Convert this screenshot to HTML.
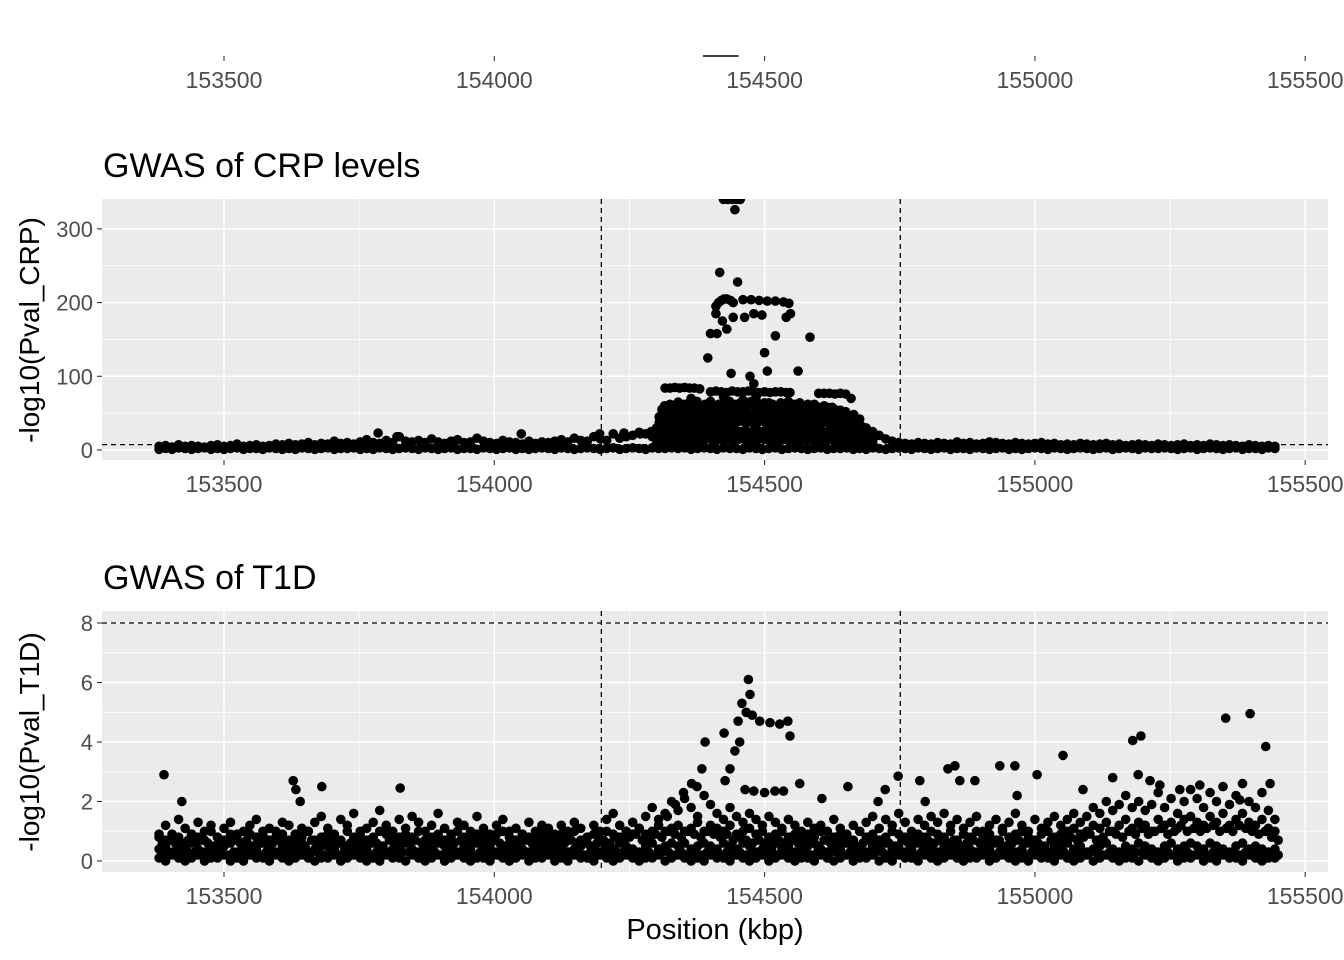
<!DOCTYPE html>
<html><head><meta charset="utf-8"><style>
html,body{margin:0;padding:0;background:#fff;}
svg{display:block;font-family:"Liberation Sans",Arial,sans-serif;}
</style></head><body>
<svg id="chart" width="1344" height="960" viewBox="0 0 1344 960" xmlns="http://www.w3.org/2000/svg">
<g id="top-track"></g>
<text x="103" y="177" font-size="34" fill="#000">GWAS of CRP levels</text>
<text x="103" y="589" font-size="34" fill="#000">GWAS of T1D</text>
<text transform="translate(39,330) rotate(-90)" text-anchor="middle" font-size="28" fill="#000">-log10(Pval_CRP)</text>
<text transform="translate(39,742) rotate(-90)" text-anchor="middle" font-size="28" fill="#000">-log10(Pval_T1D)</text>
<text x="715" y="939" text-anchor="middle" font-size="29" fill="#000">Position (kbp)</text>
<g id="crp"></g>
<g id="t1d"></g>
</svg>
<script>
// ---------- data ----------
const xTicks = [153500, 154000, 154500, 155000, 155500];
const xMinor = [153250, 153750, 154250, 154750, 155250];
const regionBounds = [154198, 154751];
const crpYTicks = [0, 100, 200, 300];
const crpYMinor = [50, 150, 250];
const t1dYTicks = [0, 2, 4, 6, 8];
const t1dYMinor = [1, 3, 5, 7];
const crpThreshold = [7.3];
const t1dThreshold = [8];
const geneSegment = [154386, 154452];

// baseline grid (positions from gridStart, every gridStep kbp)
const gridStart = 153380, gridStep = 12, gridStartB = 153386;
const t1dL1 = [0.1,0.0,0.2,0.1,0.0,0.1,0.2,0.0,0.1,0.1,0.2,0.0,0.1,0.0,0.2,0.1,0.1,0.0,0.2,0.1,
0.0,0.1,0.2,0.1,0.0,0.1,0.1,0.2,0.0,0.1,0.2,0.1,0.0,0.1,0.0,0.2,0.1,0.1,0.0,0.2,
0.1,0.0,0.1,0.2,0.0,0.1,0.2,0.1,0.0,0.1,0.1,0.0,0.2,0.1,0.0,0.1,0.2,0.0,0.1,0.1,
0.2,0.0,0.1,0.0,0.2,0.1,0.1,0.0,0.2,0.1,0.0,0.1,0.2,0.1,0.0,0.1,0.1,0.2,0.0,0.1,
0.2,0.1,0.0,0.1,0.0,0.2,0.1,0.1,0.0,0.2,0.1,0.0,0.1,0.2,0.0,0.1,0.2,0.1,0.0,0.1,
0.1,0.0,0.2,0.1,0.0,0.1,0.2,0.0,0.1,0.1,0.2,0.0,0.1,0.0,0.2,0.1,0.1,0.0,0.2,0.1,
0.0,0.1,0.2,0.1,0.0,0.1,0.1,0.2,0.0,0.1,0.2,0.1,0.0,0.1,0.0,0.2,0.1,0.1,0.0,0.2,
0.1,0.0,0.1,0.2,0.0,0.1,0.2,0.1,0.0,0.1,0.1,0.0,0.2,0.1,0.0,0.1,0.2,0.0,0.1,0.1,
0.2,0.0,0.1,0.0,0.2,0.1,0.1,0.0,0.2,0.1,0.0,0.1,0.1];
const t1dL2 = [0.4,0.5,0.3,0.5,0.4,0.6,0.4,0.3,0.5,0.4,0.5,0.6,0.3,0.4,0.5,0.4,0.6,0.4,0.3,0.5,
0.5,0.4,0.6,0.3,0.4,0.5,0.5,0.4,0.6,0.3,0.4,0.5,0.4,0.6,0.5,0.3,0.4,0.5,0.6,0.4,
0.3,0.5,0.4,0.6,0.5,0.4,0.3,0.5,0.4,0.6,0.4,0.5,0.3,0.4,0.6,0.5,0.4,0.3,0.5,0.4,
0.6,0.4,0.5,0.3,0.4,0.5,0.6,0.4,0.3,0.5,0.4,0.6,0.5,0.4,0.3,0.5,0.6,0.4,0.5,0.6,
0.5,0.6,0.4,0.5,0.6,0.5,0.4,0.6,0.5,0.4,0.6,0.5,0.3,0.4,0.5,0.6,0.4,0.5,0.3,0.4,
0.5,0.6,0.4,0.3,0.5,0.4,0.6,0.5,0.4,0.3,0.5,0.4,0.6,0.4,0.5,0.3,0.4,0.6,0.5,0.4,
0.3,0.5,0.4,0.6,0.5,0.4,0.3,0.5,0.4,0.6,0.4,0.5,0.3,0.4,0.6,0.5,0.4,0.3,0.5,0.4,
0.6,0.4,0.5,0.3,0.4,0.5,0.6,0.4,0.3,0.5,0.4,0.6,0.5,0.4,0.3,0.5,0.6,0.4,0.5,0.6,
0.5,0.4,0.6,0.5,0.4,0.3,0.5,0.6,0.4,0.5,0.4,0.3,0.4];
const t1dL3 = [0.8,0.7,0.9,0.8,0.6,0.9,0.8,0.7,1.0,0.8,0.7,0.9,0.8,0.6,0.9,0.8,1.0,0.7,0.8,0.9,
0.7,0.9,0.8,1.0,0.7,0.8,0.9,0.8,0.7,1.0,0.8,0.9,0.7,0.8,1.0,0.9,0.7,0.8,0.9,0.8,
1.0,0.7,0.8,0.9,0.7,0.8,1.0,0.8,0.7,0.9,0.8,0.7,0.9,1.0,0.8,0.7,0.9,0.8,0.7,0.9,
0.8,0.7,0.9,0.8,1.0,0.7,0.8,0.9,0.7,1.0,0.9,0.8,1.0,0.9,1.1,0.9,1.0,1.2,1.0,1.1,
1.2,1.0,1.1,1.3,1.0,1.2,1.1,1.0,1.2,0.9,1.0,1.1,0.9,1.0,0.8,0.9,1.0,0.8,0.9,0.7,
0.9,0.8,1.0,0.7,0.8,0.9,0.8,0.7,1.0,0.8,0.9,0.7,0.8,1.0,0.9,0.8,0.7,0.9,0.8,1.0,
0.9,0.8,1.0,0.7,0.9,0.8,1.0,0.8,0.9,0.7,1.0,0.8,0.9,1.0,0.8,0.7,0.9,1.0,0.8,0.9,
1.0,1.1,0.9,1.0,1.2,1.1,1.3,1.0,1.2,1.4,1.1,1.3,1.2,1.0,1.4,1.2,1.3,1.1,1.4,1.5,
1.3,1.2,1.5,1.3,1.6,1.2,1.4,1.6,1.3,1.2,1.4,1.1,1.0];
const t1dL4 = [0.9,1.2,0.8,1.4,1.1,0.9,1.3,1.0,1.2,0.8,1.1,1.3,0.9,1.0,1.2,1.4,0.9,1.1,1.0,1.3,
1.2,0.9,1.1,1.0,1.3,1.5,1.1,0.9,1.4,1.2,1.6,1.0,1.1,1.3,1.7,1.2,1.0,1.4,1.1,1.5,
1.3,1.0,1.2,1.6,1.1,0.9,1.3,1.2,1.0,1.5,1.1,0.9,1.2,1.4,1.0,1.1,0.9,1.3,1.0,1.2,
1.1,0.9,1.2,1.0,1.3,1.1,0.8,1.2,1.0,1.4,1.6,1.2,1.0,1.3,1.1,1.5,1.8,1.4,1.6,2.0,
1.7,2.1,1.8,1.5,2.2,1.9,1.6,1.4,1.8,1.5,1.3,1.6,1.4,1.2,1.5,1.3,1.1,1.4,1.2,1.0,
1.3,1.1,1.2,1.0,1.4,1.1,0.9,1.2,1.0,1.3,1.5,1.1,1.4,1.2,1.6,1.3,1.0,1.4,1.2,1.5,
1.3,1.6,1.2,1.4,1.1,1.3,1.5,1.0,1.2,1.4,1.1,1.3,1.6,1.2,1.0,1.4,1.1,1.3,1.5,1.2,
1.4,1.6,1.3,1.5,1.8,1.6,2.0,1.7,1.9,2.2,1.8,2.0,1.7,1.9,2.3,1.8,2.1,1.6,2.0,2.4,
2.1,1.8,2.3,2.0,2.5,1.9,2.2,2.6,2.0,1.8,2.3,1.7,1.4];
// offset layers (positions from gridStartB)
const t1dL5 = [0.3,0.2,0.3,0.2,0.3,0.3,0.2,0.3,0.2,0.3,0.2,0.3,0.3,0.2,0.3,0.2,0.3,0.2,0.3,0.3,
0.2,0.3,0.2,0.3,0.3,0.2,0.3,0.2,0.3,0.2,0.3,0.3,0.2,0.3,0.2,0.3,0.2,0.3,0.3,0.2,
0.3,0.2,0.3,0.2,0.3,0.3,0.2,0.3,0.2,0.3,0.2,0.3,0.3,0.2,0.3,0.2,0.3,0.2,0.3,0.3,
0.2,0.3,0.2,0.3,0.3,0.2,0.3,0.2,0.3,0.2,0.3,0.3,0.2,0.3,0.2,0.3,0.2,0.3,0.3,0.2,
0.3,0.2,0.3,0.2,0.3,0.3,0.2,0.3,0.2,0.3,0.2,0.3,0.3,0.2,0.3,0.2,0.3,0.2,0.3,0.3,
0.2,0.3,0.2,0.3,0.3,0.2,0.3,0.2,0.3,0.2,0.3,0.3,0.2,0.3,0.2,0.3,0.2,0.3,0.3,0.2,
0.3,0.2,0.3,0.2,0.3,0.3,0.2,0.3,0.2,0.3,0.2,0.3,0.3,0.2,0.3,0.2,0.3,0.2,0.3,0.3,
0.2,0.3,0.2,0.3,0.3,0.2,0.3,0.2,0.3,0.2,0.3,0.3,0.2,0.3,0.2,0.3,0.2,0.3,0.3,0.2,
0.3,0.2,0.3,0.2,0.3,0.3,0.2,0.3,0.2,0.3,0.2,0.3,0.2];
const t1dL6 = [0.6,0.7,0.6,0.5,0.7,0.6,0.7,0.6,0.5,0.7,0.6,0.7,0.6,0.7,0.5,0.6,0.7,0.6,0.7,0.6,
0.7,0.6,0.5,0.7,0.6,0.7,0.6,0.7,0.5,0.6,0.7,0.6,0.7,0.6,0.5,0.7,0.6,0.7,0.6,0.7,
0.6,0.5,0.7,0.6,0.7,0.6,0.7,0.5,0.6,0.7,0.6,0.7,0.6,0.5,0.7,0.6,0.7,0.6,0.7,0.6,
0.5,0.7,0.6,0.7,0.6,0.7,0.5,0.6,0.7,0.6,0.8,0.7,0.8,0.9,0.7,0.8,0.9,0.8,1.0,0.9,
0.8,1.0,0.9,0.8,1.0,0.9,0.8,0.9,0.7,0.8,0.7,0.6,0.7,0.6,0.5,0.7,0.6,0.7,0.6,0.7,
0.6,0.5,0.7,0.6,0.7,0.6,0.7,0.5,0.6,0.7,0.6,0.7,0.6,0.5,0.7,0.6,0.7,0.6,0.7,0.6,
0.7,0.6,0.7,0.5,0.6,0.7,0.6,0.7,0.6,0.7,0.5,0.6,0.7,0.6,0.7,0.6,0.5,0.7,0.6,0.7,
0.8,0.7,0.8,0.9,0.7,0.8,1.0,0.9,0.8,1.0,0.9,1.1,0.9,1.0,1.1,0.9,1.0,1.2,1.0,1.1,
1.0,1.1,1.2,1.0,1.1,1.0,1.2,1.1,1.0,0.9,1.0,0.8,0.7];
const t1dOutPos = [153389,153422,153628,153633,153641,153681,153826,154320,154335,154350,154365,154375,
154384,154390,154425,154451,154458,154466,154470,154473,154477,154491,154510,154528,154543,154547,
154454,154445,154436,154427,154464,154519,154565,154606,154654,154710,154723,154747,
154787,154797,154839,154852,154861,154889,154935,154963,154967,155004,155052,155089,155144,
155181,155196,155191,155213,155231,155268,155305,155353,155398,155427,155435,155379,154480,154500,154535];
const t1dOutVal = [2.9,2.0,2.7,2.4,2.0,2.5,2.45,1.5,1.9,2.3,2.6,2.5,
3.1,4.0,4.3,4.7,5.3,5.0,6.1,5.6,4.9,4.7,4.65,4.6,4.7,4.2,
4.0,3.7,3.1,2.7,2.4,2.35,2.6,2.1,2.5,2.0,2.4,2.85,
2.7,2.0,3.1,3.2,2.7,2.7,3.2,3.2,2.2,2.9,3.55,2.4,2.8,
4.05,4.2,2.9,2.7,2.55,2.4,2.55,4.8,4.95,3.85,2.6,2.05,2.35,2.3,2.35];

const crpB1 = [1,2,1,3,2,1,2,3,1,2,1,2,3,1,2,2,1,3,2,1,
2,1,3,2,1,2,3,1,2,2,3,1,2,1,3,2,1,2,3,2,
1,3,2,1,2,3,1,2,2,1,3,2,1,2,3,1,2,1,2,3,
2,1,3,2,1,2,3,2,1,2,3,1,2,3,2,1,3,2,2,3,
2,3,1,2,3,2,1,3,2,2,1,3,2,1,2,3,1,2,3,2,
1,2,3,1,2,2,3,1,2,1,3,2,1,2,3,2,1,3,2,1,
2,3,1,2,2,1,3,2,1,2,3,1,2,1,2,3,2,1,3,2,
1,2,3,2,1,2,3,1,2,3,2,1,3,2,2,3,2,1,2,3,
1,2,3,2,1,2,3,1,2,2,1,3,2];
const crpB2 = [5,6,4,7,5,6,5,4,6,7,5,6,8,5,6,7,5,6,8,7,
9,7,8,10,7,9,8,12,9,10,8,11,14,10,9,13,10,18,12,11,
13,10,15,11,9,12,14,10,11,16,12,10,9,13,11,10,8,12,9,11,
10,12,14,11,16,13,12,18,15,13,22,16,18,20,24,22,18,25,30,40,
60,55,70,62,50,66,58,72,60,55,68,62,70,58,64,55,60,66,52,58,
55,62,50,58,45,52,40,35,42,30,25,20,15,12,10,9,8,10,9,8,
10,9,8,11,9,10,8,9,11,10,9,8,10,9,8,9,10,8,9,7,
8,7,9,8,7,8,9,7,8,6,7,8,7,6,8,7,6,7,8,6,
7,6,8,7,6,7,6,5,7,6,5,6,5];
// peak-region cloud (positions from peakStart, every peakStep kbp)
const peakStart = 154300, peakStep = 5;
const crpP1 = [8,12,10,15,12,14,10,16,12,15,11,14,17,12,15,13,16,12,14,18,
15,12,16,14,18,13,15,17,12,16,14,18,15,13,17,14,16,12,15,18,
14,16,13,17,15,12,16,14,18,13,15,17,12,16,14,15,13,17,12,16,
14,15,13,12,16,14,12,15,13,11,14,12,10,13,11,9,12,10,8,9,6];
const crpP4 = [14,20,22,25,22,26,24,21,27,23,25,22,26,24,21,27,23,25,22,26,
24,21,27,23,25,22,26,24,21,27,23,25,22,26,24,21,27,23,25,22,
26,24,21,27,23,25,22,26,24,21,27,23,25,22,26,24,21,27,23,25,
22,26,24,21,27,23,25,22,24,21,23,20,22,19,20,17,16,14,12,10,5];
const crpP2 = [20,30,35,28,32,38,30,34,40,36,30,38,42,35,30,40,36,32,38,44,
36,40,34,42,38,35,44,40,36,42,38,45,40,36,44,38,42,35,40,46,
38,42,36,44,40,35,42,38,45,36,40,38,35,42,36,40,34,38,42,36,
40,35,38,42,36,34,38,32,36,30,34,32,28,30,26,24,22,18,14,12,8];
const crpP5 = [26,38,46,48,45,50,47,44,51,46,49,45,50,47,44,51,46,49,45,50,
47,44,51,46,49,45,50,47,44,51,46,49,45,50,47,44,51,46,49,45,
50,47,44,51,46,49,45,50,47,44,51,46,49,45,50,47,44,51,46,49,
45,48,44,46,42,45,41,43,39,41,37,38,34,35,31,29,26,22,18,14,9];
const crpP3 = [30,45,55,60,58,62,55,60,65,58,62,56,64,60,58,66,60,55,62,58,
64,60,56,62,58,64,60,66,58,62,56,64,60,58,62,66,60,56,62,58,
64,60,58,62,56,60,64,58,62,60,56,62,58,64,60,56,62,58,60,56,
58,54,60,56,52,58,55,50,54,48,52,46,44,48,40,36,32,28,22,18,12];
const crpOutPos = [154424,154432,154440,154448,154455,154445,154417,154450,
154410,154415,154420,154425,154430,154437,154442,154460,154475,154490,154505,154520,154535,154545,
154548,154540,154584,154410,154422,154442,154463,154480,154495,154400,154412,154430,154500,154520,
154395,154505,154562,154438,154473,154480,
154316,154325,154334,154343,154352,154361,154370,154380,
154400,154410,154420,154430,154440,154450,154460,154470,154480,154490,154500,154510,154520,154530,154540,154547,
154600,154610,154620,154630,154640,154650,154660,154572,154590,
153785,153820,154050,154195,154240,154270,154290];
const crpOutVal = [340,340,340,340,340,326,241,228,
195,200,203,205,205,203,200,204,204,203,202,202,201,199,
185,180,153,185,175,180,180,185,183,158,158,164,132,155,
125,107,107,104,100,90,
84,84,85,84,85,84,84,83,
79,80,79,78,80,79,79,80,79,78,79,78,79,79,78,78,
77,77,77,76,77,76,70,60,58,
23,18,22,22,23,22,25];

// ---------- helpers ----------
const NS = "http://www.w3.org/2000/svg";
const X0 = 102, X1 = 1328;
const R = 4.8;
const xs = v => 224 + (v - 153500) * (270.3 / 500);
function el(tag, attrs, parent) {
  const e = document.createElementNS(NS, tag);
  for (const k in attrs) e.setAttribute(k, attrs[k]);
  parent.appendChild(e);
  return e;
}
function xAxis(parent, yTop) {
  xTicks.forEach(t => {
    const tk = el("line", {x1: xs(t), x2: xs(t), y1: yTop, y2: yTop + 5, stroke: "#333", "stroke-width": 1.1}, parent);
    
    
    const lb = el("text", {x: xs(t), y: yTop + 32, "text-anchor": "middle", "font-size": 23, fill: "#4d4d4d"}, parent);
    lb.textContent = t;
    
    
  });
}
function panel(g, pTop, pBottom, ys, yTicks, yMinor, thresh, points) {
  const bg = el("rect", {x: X0, y: pTop, width: X1 - X0, height: pBottom - pTop, fill: "#ebebeb"}, g);
  
  
  yMinor.forEach(v => { const l = el("line", {x1: X0, x2: X1, y1: ys(v), y2: ys(v), stroke: "#fff", "stroke-width": 0.7}, g);
    
     });
  xMinor.forEach(v => { if (xs(v) > X0 && xs(v) < X1) { const l = el("line", {x1: xs(v), x2: xs(v), y1: pTop, y2: pBottom, stroke: "#fff", "stroke-width": 0.7}, g);
    
     } });
  yTicks.forEach(v => {
    const l = el("line", {x1: X0, x2: X1, y1: ys(v), y2: ys(v), stroke: "#fff", "stroke-width": 1.4}, g);
    
    
    const tk = el("line", {x1: X0 - 5, x2: X0, y1: ys(v), y2: ys(v), stroke: "#333", "stroke-width": 1.1}, g);
    
    
    const lb = el("text", {x: X0 - 9, y: ys(v) + 8, "text-anchor": "end", "font-size": 22, fill: "#4d4d4d"}, g);
    lb.textContent = v;
    
    
  });
  xTicks.forEach(v => { if (xs(v) < X1) { const l = el("line", {x1: xs(v), x2: xs(v), y1: pTop, y2: pBottom, stroke: "#fff", "stroke-width": 1.4}, g);
    
     } });
  const clipId = "clip" + pTop;
  const cp = el("clipPath", {id: clipId}, g);
  el("rect", {x: X0, y: pTop, width: X1 - X0, height: pBottom - pTop}, cp);
  const pg = el("g", {"clip-path": "url(#" + clipId + ")"}, g);
  
  
  points.forEach(([p, v]) => {
    const c = el("circle", {cx: xs(p).toFixed(1), cy: ys(v).toFixed(1), r: R, fill: "#000"}, pg);
    
    
  });
  regionBounds.forEach(b => { const l = el("line", {x1: xs(b), x2: xs(b), y1: pTop, y2: pBottom, stroke: "#000", "stroke-width": 1.3, "stroke-dasharray": "5,4"}, g);
    
     });
  thresh.forEach(t => { const l = el("line", {x1: X0, x2: X1, y1: ys(t), y2: ys(t), stroke: "#000", "stroke-width": 1.3, "stroke-dasharray": "5,4"}, g);
    
     });
  xAxis(g, pBottom);
}
function gridPts(arrs, start) {
  const out = [];
  arrs.forEach(a => a.forEach((v, i) => out.push([start + i * gridStep, v])));
  return out;
}
// ---------- top track ----------
const trackG = document.getElementById("top-track");
const gl = el("line", {x1: xs(geneSegment[0]), x2: xs(geneSegment[1]), y1: 56, y2: 56, stroke: "#000", "stroke-width": 1.5}, trackG);


xAxis(trackG, 56);

// ---------- CRP ----------
const crpPts = gridPts([crpB1, crpB2], gridStart);
[crpP1, crpP4, crpP2, crpP5, crpP3].forEach(a => a.forEach((v, i) => crpPts.push([peakStart + i * peakStep, v])));
crpOutPos.forEach((p, i) => crpPts.push([p, crpOutVal[i]]));
panel(document.getElementById("crp"), 199, 460, v => 450 - v * 0.737, crpYTicks, crpYMinor, crpThreshold, crpPts);

// ---------- T1D ----------
const t1dPts = gridPts([t1dL1, t1dL2, t1dL3, t1dL4], gridStart).concat(gridPts([t1dL5, t1dL6], gridStartB));
t1dOutPos.forEach((p, i) => t1dPts.push([p, t1dOutVal[i]]));
panel(document.getElementById("t1d"), 611, 872, v => 861 - v * 29.75, t1dYTicks, t1dYMinor, t1dThreshold, t1dPts);
</script>
</body></html>
